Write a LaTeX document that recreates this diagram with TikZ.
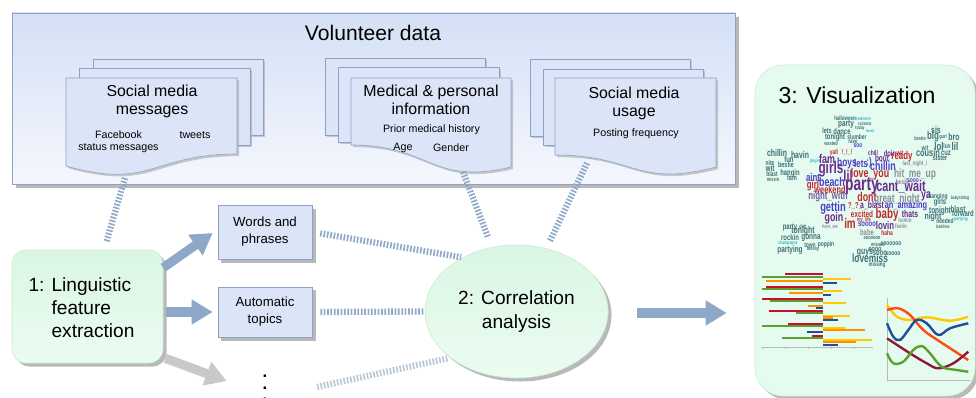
\documentclass[tikz,border=0pt]{standalone}
\usepackage{fontspec}
\setmainfont{Liberation Sans}
\newfontfamily\cloudfont[FakeStretch=0.7]{Liberation Sans}
\usetikzlibrary{arrows.meta}
\usetikzlibrary{shadows}
\usetikzlibrary{shapes.geometric}
\usetikzlibrary{calc}

\definecolor{boxline}{HTML}{8AA3C4}
\definecolor{voltop}{HTML}{D4E0F6}
\definecolor{volbottom}{HTML}{F5F7FD}
\definecolor{pageblue}{HTML}{DCE5F8}
\definecolor{mintline}{HTML}{C6ECD2}
\definecolor{minttop}{HTML}{DAF6E3}
\definecolor{mintbottom}{HTML}{EBFCF1}
\definecolor{vizmint}{HTML}{E6FBF0}
\definecolor{arrowblue}{HTML}{8EA9C7}
\definecolor{arrowgrey}{HTML}{C9C9C9}
\definecolor{linkblue}{HTML}{91AAC8}
\definecolor{linkgrey}{HTML}{BCC8D4}
\definecolor{shadowgrey}{HTML}{A8A8A8}
\definecolor{ct}{HTML}{3E6F76}
\definecolor{cc}{HTML}{2FB5C5}
\definecolor{cp}{HTML}{6A2C8C}
\definecolor{cv}{HTML}{6C5F9C}
\definecolor{cb}{HTML}{4B3EC8}
\definecolor{cr}{HTML}{C1272D}
\definecolor{cg}{HTML}{8C8C9C}
\definecolor{bred}{HTML}{C8102E}
\definecolor{bgreen}{HTML}{5AA02C}
\definecolor{byellow}{HTML}{FFC800}
\definecolor{borange}{HTML}{FF9200}
\definecolor{bblue}{HTML}{1F4E9C}
\definecolor{lorange}{HTML}{FF4A10}
\definecolor{lmaroon}{HTML}{8B1A3A}

\tikzset{
  softshadow/.style={drop shadow={shadow xshift=2.5pt, shadow yshift=-2.5pt, fill=shadowgrey, opacity=.8}},
  page/.style={draw=boxline, fill=pageblue, drop shadow={shadow xshift=1.5pt, shadow yshift=-1.5pt, fill=shadowgrey, opacity=.6}},
  featbox/.style={draw=boxline, fill=pageblue, minimum width=66.9pt, inner sep=1pt, align=center, font=\fontsize{9.4}{12}\selectfont, softshadow},
  mintbox/.style={draw=mintline, top color=minttop, bottom color=mintbottom, softshadow},
  bigarrow/.style={-{Triangle[length=15pt,width=17pt]}, line width=6.5pt, draw=arrowblue},
  dotlink/.style={draw=linkblue, line width=4.5pt, dash pattern=on 1.2pt off 1.2pt},
  cloudword/.style={inner sep=0pt}
}

\begin{document}
\begin{tikzpicture}[x=0.025cm, y=-0.025cm]
    \useasboundingbox (0,0) rectangle (976,398);

    % Volunteer data box
    \draw[draw=boxline, top color=voltop, bottom color=volbottom, softshadow] (12,13) rectangle (735,184);
    \node (vol) at (373,33) {\fontsize{15}{18}\selectfont Volunteer data};

    % Social media messages
    \draw[page] (93,59) rectangle (263,135);
    \draw[page] (79,68) rectangle (250,145);
    \draw[page] (66,78) -- (237,78) -- (237,154) .. controls (151.5,154) and (151.5,190) .. (66,166) -- cycle;
    \node[align=center, font=\fontsize{11.3}{12.8}\selectfont] (msgtitle) at (152,101) {Social media\\messages};
    \node[align=center, font=\fontsize{7.6}{8.5}\selectfont] (msgfb) at (118.5,142) {Facebook\\status messages};
    \node[font=\fontsize{7.6}{8.5}\selectfont] (msgtw) at (195,135) {tweets};

    % Medical & personal information
    \draw[page] (325,58) rectangle (485,135);
    \draw[page] (338,67) rectangle (499,142);
    \draw[page] (351,78) -- (511,78) -- (511,167) .. controls (431,186) and (431,145) .. (351,145) -- cycle;
    \node[align=center, font=\fontsize{11.3}{12.8}\selectfont] (medtitle) at (431,100) {Medical \& personal\\information};
    \node[font=\fontsize{7.6}{8.5}\selectfont] (medprior) at (431.5,129.5) {Prior medical history};
    \node[font=\fontsize{7.6}{8.5}\selectfont] (medage) at (403,148) {Age};
    \node[font=\fontsize{7.6}{8.5}\selectfont] (medgender) at (451,148) {Gender};

    % Social media usage
    \draw[page] (530,59) rectangle (690,136);
    \draw[page] (543,69) rectangle (703,145);
    \draw[page] (555,78) -- (716,78) -- (716,167) .. controls (635.5,188) and (635.5,155) .. (555,155) -- cycle;
    \node[align=center, font=\fontsize{11.3}{12.8}\selectfont] (usetitle) at (634,103) {Social media\\usage};
    \node[font=\fontsize{7.6}{8.5}\selectfont] (usefreq) at (636,134) {Posting frequency};

    % Feet of the stacks
    \coordinate (msgfoot) at (125,178);
    \coordinate (medfoot) at (463,172);
    \coordinate (usefoot) at (587,163);

    % 1: feature extraction and the features
    \node[mintbox, rounded corners=10pt, minimum width=107.4pt, minimum height=80.4pt] (ling) at (87.5,306.5) {};
    \node[align=left, font=\fontsize{13.6}{16.4}\selectfont] (lingtext) at (81.5,307.5)
          {1: Linguistic\\\phantom{1: }feature\\\phantom{1: }extraction};
    \node[featbox, minimum height=38.4pt] (words) at (265,232) {Words and\\phrases};
    \node[featbox, minimum height=35.6pt] (topics) at (265,312) {Automatic\\topics};
    \node[minimum width=66.9pt, inner sep=0pt, align=center, font=\fontsize{12}{8.2}\bfseries\selectfont] (dots) at (265,388) {.\\.\\.};

    % 2: Correlation analysis
    \node[ellipse, mintbox, minimum width=130.2pt, minimum height=94.6pt, inner sep=0pt, align=center,
          font=\fontsize{13.6}{16.6}\selectfont] (corr) at (516.5,311.5) {2: Correlation\\analysis};

    % 3: Visualization panel
    \node[draw=mintline, fill=vizmint, rounded corners=20pt, minimum width=156.5pt, minimum height=235.4pt, softshadow] (viz) at (865,230.5) {};
    \node[font=\fontsize{16.4}{19}\selectfont] (viztitle) at (857,95) {3: Visualization};

    % Arrows
    \draw[bigarrow] ($(ling.north east)+(0,18)$) -- ($(words.west)+(-5,1)$);
    \draw[bigarrow] ($(ling.east |- topics.west)+(3,0)$) -- ($(topics.west)+(-5,0)$);
    \draw[bigarrow, draw=arrowgrey] ($(ling.south east)+(2,-5)$) -- ($(dots.west)+(9,-7)$);
    \draw[bigarrow] ($(corr.east)+(29,1.5)$) -- ($(viz.west |- corr.east)+(-28,1.5)$);

    % Dotted links
    \draw[dotlink, shorten >=5.7pt] (msgfoot) -- (ling);
    \draw[dotlink, shorten >=7pt] (medfoot) -- (corr);
    \draw[dotlink, shorten >=5.5pt] (usefoot) -- (corr);
    \draw[dotlink, shorten <=5.7pt, shorten >=1pt] (words.east) -- (corr.135);
    \draw[dotlink, shorten <=5.7pt, shorten >=1pt] (topics.east) -- (corr.west);
    \draw[dotlink, draw=linkgrey, shorten <=3.5pt, shorten >=1pt] (dots.east) -- (corr.215);

    % Word cloud
    \foreach \wx/\wy/\ws/\wc/\wt [count=\i] in {
        845/118/4.5/ct/halloween, 863/119/3.5/cc/treatment, 846/124/6.5/ct/party, 865/124/3.5/ct/rockstar,
        827/131/5.5/ct/lets, 842/131/6/ct/dance, 860/128/3.5/ct/today, 870/131/3/cc/bored,
        835/137/6/ct/tonight, 857/137/5/ct/slumber, 831/143/4/ct/wasted, 853/142/4.5/ct/rave, 858/146/5/cb/soo,
        777/153/7/ct/chillin, 800/155/7/ct/havin, 789/159/6/ct/fun, 770/163/5/ct/nite, 786/165/5.5/ct/bestie,
        770/168/6.5/ct/wit, 772/174/5/ct/blast, 790/173/6/ct/hangin, 773/179/4/ct/missin, 792/178/5.5/ct/fam,
        815/161/3.5/cc/playin,
        834/153/5/cr/yall, 847/153/5/cr/!\_!\_!, 827/159/9/cp/fam, 847/163/8.5/cb/boys, 861/163/8/cb/lets,
        869/163/8/cb/:), 883/166/9/cb/chillin, 873/153/5/cp/chill, 890/153/6/cp/doin, 900/153/5/cr/wit,
        882/158/6.5/cp/bout, 902/157/8/cr/ready, 915/164/4.5/cg/last\_night\_i,
        831/169/12/cp/girls, 848/176/11/cp/lil, 870/174/9/cr/love\_you, 915/174/8.5/cg/hit\_me\_up,
        813/177/8/cb/aint, 832/182/9/cb/beach, 813/186/8/cr/girl, 830/190/7.5/cr/weekend,
        862/186/14/cp/party, 901/187/11/cp/cant\_wait, 903/182/5/cg/bestie, 913/181/5/cb/sooo,
        828/197/8/cv/night\_with, 867/197/9/cr/dont, 897/199/8.5/cg/great\_night, 926/196/9/cp/ya,
        833/208/9.5/cb/gettin, 855/206/6/cr/?\_?\_, 872/206/7/cp/a\_blast, 906/206/7.5/cb/an\_amazing,
        862/214/6.5/cr/excited, 887/215/10/cr/baby, 910/214/7/cp/thats, 834/218/9/cp/goin, 850/223/10/cr/im,
        864/220/4/cr/my\_life, 867/224/6/cb/soooo, 885/225/8/cp/lovin, 905/220/4.5/cg/lookin, 901/226/4.5/cg/feelin,
        830/227/4/cg/here\_we, 867/232/6/cg/babe, 887/233/5/cr/haha,
        936/130/7/ct/sis, 920/138/4/ct/bestie, 933/137/8/ct/big, 943/137/4/ct/gurl, 954/137/7/ct/bro,
        939/146/8/ct/lol, 947/146/5/ct/luv, 955/146/8/ct/lil, 925/148/5/ct/wit, 928/153/7.5/ct/cousin,
        946/153/6/ct/cuz, 940/158/5.5/ct/sister,
        938/197/5/ct/hanging, 960/198/3.5/ct/babysitting, 940/202/6/ct/girls, 958/209/6.5/ct/blast,
        940/211/6.5/ct/tonight, 933/217/7/ct/night, 963/213/6/ct/forward, 945/221/5/ct/needed,
        961/219/3.5/cc/partying, 943/227/3.5/ct/bedtime,
        790/228/6/ct/party, 803/226/4/ct/dub, 803/231/7/ct/tonight, 790/237/6/ct/rockin, 811/238/6.5/ct/gonna,
        788/243/3.5/cc/champagne, 810/245/5/ct/town, 826/245/5/ct/poppin, 813/250/4/ct/messy, 790/250/6.5/ct/partying,
        872/238/4/ct/soooooo, 878/244/4/ct/missed, 891/244/5/ct/soooooo, 875/249/5.5/ct/sooo,
        865/253/7/ct/guys, 880/253/6/ct/sooo, 893/254/5/ct/soooo, 870/258/8.5/ct/lovemiss, 877/265/4.5/ct/missing}
        \node[cloudword, text=\wc, font=\cloudfont\bfseries\fontsize{\ws}{\ws}\selectfont] (cw\i) at (\wx,\wy) {\wt};

    % Bar chart
    \draw[gray!55, line width=.5pt] (762,347) -- (873,347);
    \foreach \tx in {762,785,808,831,854} \draw[gray!55, line width=.4pt] (\tx,347) -- (\tx,349);
    \foreach \by/\bx/\bc in {274.3/785/bred, 276.7/762/bgreen, 279/851/byellow, 281/766/borange, 283/837/bblue,
        287/766/bred, 289/762/bgreen, 291/842/byellow, 293/789/borange, 295/831/bblue,
        299/762/bred, 301/770/bgreen, 303/846/byellow, 306/808/borange, 308/816/bblue,
        311/769/bred, 313/796/bgreen, 316/850/byellow, 317.5/833/borange, 320/838/bblue,
        324/788/bred, 326/762/bgreen, 328/845/byellow, 330/865/borange, 332/807/bblue,
        336/812/bred, 338/782/bgreen, 340/872/byellow, 342/856/borange, 345/838/bblue}
        \draw[\bc, line width=1.5pt] (823,\by) -- (\bx,\by);

    % Line chart
    \draw[gray!55, line width=.5pt] (887,298) -- (887,380) -- (970,380);
    \draw[byellow, line width=1.7pt] plot[smooth, tension=.6] coordinates {(887,305) (897,316.7) (910,320) (926.7,317.3) (950,320.7) (968.3,316.7)};
    \draw[lorange, line width=1.7pt] plot[smooth, tension=.6] coordinates {(887,310) (898.3,308.3) (910,315) (923.3,330) (940,341.7) (968.3,360)};
    \draw[bblue, line width=1.7pt] plot[smooth, tension=.6] coordinates {(887,323.3) (893.3,336.7) (900,340) (908.3,330) (916.7,320) (926.7,323.3) (938.3,335) (950,328.3) (968.3,323.3)};
    \draw[lmaroon, line width=1.7pt] plot[smooth, tension=.6] coordinates {(887,338.3) (910,353.3) (926.7,363.3) (938.3,368.3) (953.3,363.3) (968.3,351.7)};
    \draw[bgreen, line width=1.7pt] plot[smooth, tension=.6] coordinates {(887,353.3) (893.3,363.3) (903.3,361.7) (913.3,350) (921.7,346) (930,353.3) (941.7,366.7) (956.7,370) (968.3,371.7)};
\end{tikzpicture}
\end{document}
